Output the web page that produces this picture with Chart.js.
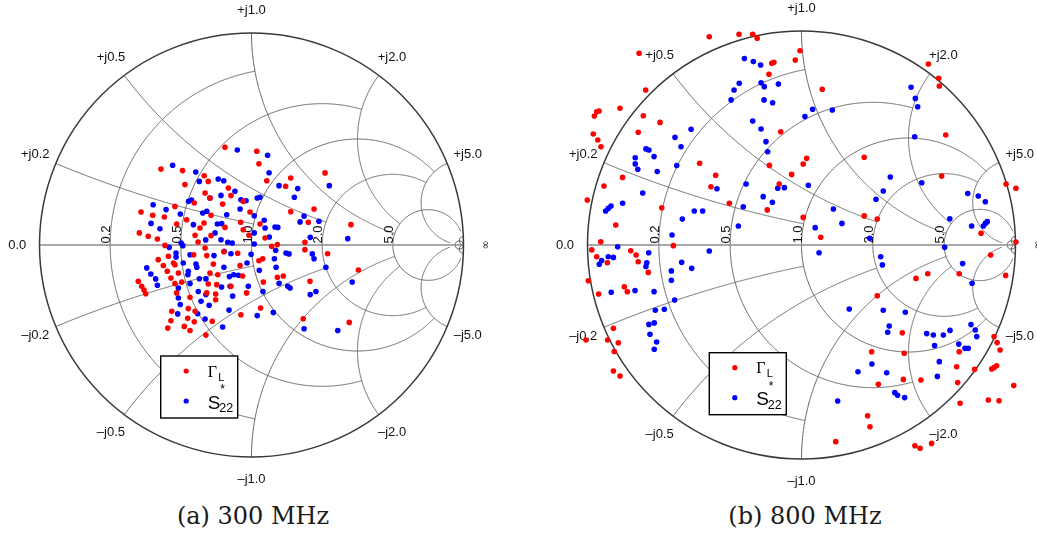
<!DOCTYPE html>
<html>
<head>
<meta charset="utf-8">
<script src="https://cdn.jsdelivr.net/npm/chart.js@4/dist/chart.umd.min.js"></script>
<style>
  html, body { margin: 0; padding: 0; background: #fff; }
  #wrap { position: relative; width: 1037px; height: 537px; overflow: hidden; }
  canvas { position: absolute; top: 0; }
  #smithA { left: 0; }
  #smithB { left: 530px; }
  .cap {
    position: absolute; top: 502px;
    font-family: "DejaVu Serif", serif; font-size: 24px; color: #1a1a1a;
    transform: translateX(-50%); white-space: nowrap;
  }
</style>
</head>
<body>
<div id="wrap">
  <canvas id="smithA" width="530" height="500"></canvas>
  <canvas id="smithB" width="507" height="500"></canvas>
  <div class="cap" style="left:253px">(a) 300 MHz</div>
  <div class="cap" style="left:805px">(b) 800 MHz</div>
</div>
<script>
// Smith chart grid: constant-resistance circles and constant-reactance arcs,
// each one drawn only up to its limit value
const resistanceCircles = [0.2, 0.5, 1.0, 2.0, 5.0];
const resistanceLimits = [1, 2, 5, 5, 30];
const reactanceArcs = [0.2, 0.5, 1.0, 2.0, 5.0];
const reactanceLimits = [1, 2, 5, 5, 30];
const resistanceLabels = ['0.2', '0.5', '1.0', '2.0', '5.0'];
const reactanceLabels = ['0.2', '0.5', '1.0', '2.0', '5.0'];

// reflection coefficients [Re, Im] at 300 MHz
const gammaL300 = [
  [-0.125,0.461],[-0.427,0.358],[-0.325,0.351],[-0.314,0.285],[-0.223,0.327],[-0.204,0.300],[-0.219,0.245],
  [-0.109,0.269],[-0.097,0.233],[-0.196,0.222],[-0.039,0.206],[-0.270,0.198],[-0.136,0.193],[-0.361,0.182],
  [-0.521,0.156],[-0.466,0.140],[-0.411,0.132],[-0.306,0.119],[-0.191,0.140],[-0.353,0.099],[-0.224,0.104],
  [-0.243,0.080],[-0.125,0.083],[-0.051,0.107],[-0.529,0.057],[-0.487,0.041],[-0.444,0.028],[-0.266,0.046],
  [-0.191,0.044],[-0.039,0.072],[-0.252,0.014],[-0.219,-0.014],[-0.408,-0.002],[-0.440,-0.069],[-0.392,-0.053],
  [-0.368,-0.085],[-0.273,-0.046],[-0.211,-0.050],[-0.130,-0.032],[-0.065,-0.039],[-0.416,-0.097],[-0.397,-0.124],
  [-0.361,-0.093],[-0.345,-0.132],[-0.380,-0.156],[-0.329,-0.175],[-0.180,-0.090],[-0.196,-0.132],[-0.159,-0.140],
  [-0.054,-0.097],[-0.534,-0.171],[-0.518,-0.195],[-0.507,-0.212],[-0.499,-0.230],[-0.361,-0.182],[-0.204,-0.184],
  [-0.164,-0.187],[-0.097,-0.195],[-0.042,-0.146],[-0.353,-0.226],[-0.290,-0.247],[-0.211,-0.226],[-0.169,-0.231],
  [-0.169,-0.258],[-0.376,-0.313],[-0.298,-0.300],[-0.266,-0.313],[-0.380,-0.357],[-0.301,-0.346],[-0.270,-0.362],
  [-0.185,-0.360],[-0.395,-0.392],[-0.317,-0.384],[-0.290,-0.403],[-0.050,-0.329],[-0.215,-0.425],
  [0.025,0.442],[0.035,0.383],[0.072,0.303],[0.185,0.316],[0.161,0.277],[0.347,0.340],[0.295,0.170],
  [0.185,0.157],[-0.007,0.156],[0.040,0.099],[0.268,0.107],[-0.012,0.046],[0.064,0.033],[0.122,0.002],
  [0.095,-0.006],[0.252,0.013],[0.252,-0.022],[0.359,-0.041],[0.469,0.096],[0.035,-0.074],[0.053,-0.065],
  [0.122,-0.152],[0.150,-0.146],[0.056,-0.175],[0.276,-0.171],[-0.023,-0.226],[0.504,-0.118],[0.043,-0.297],
  [0.244,-0.348],[0.461,-0.365]
];
const s22conj300 = [
  [-0.067,0.448],[-0.372,0.376],[-0.263,0.344],[-0.246,0.300],[-0.157,0.311],[-0.131,0.303],[-0.078,0.253],
  [-0.196,0.222],[-0.144,0.234],[-0.050,0.213],[-0.297,0.206],[-0.283,0.212],[-0.464,0.190],[-0.403,0.167],
  [-0.336,0.146],[-0.230,0.151],[-0.211,0.159],[-0.117,0.143],[-0.054,0.170],[-0.474,0.102],[-0.432,0.077],
  [-0.274,0.096],[-0.161,0.099],[-0.141,0.101],[-0.172,0.057],[-0.144,0.025],[-0.216,0.024],[-0.112,0.013],
  [-0.091,0.009],[-0.332,0.009],[-0.324,-0.003],[-0.388,-0.011],[-0.356,-0.038],[-0.356,-0.057],[-0.290,-0.046],
  [-0.177,-0.050],[-0.097,-0.041],[-0.129,-0.030],[-0.322,-0.085],[-0.262,-0.090],[-0.258,-0.105],[-0.494,-0.108],
  [-0.475,-0.137],[-0.452,-0.160],[-0.444,-0.190],[-0.298,-0.124],[-0.300,-0.140],[-0.246,-0.159],[-0.215,-0.160],
  [-0.290,-0.182],[-0.130,-0.105],[-0.084,-0.140],[-0.062,-0.143],[-0.104,-0.149],[-0.345,-0.203],[-0.251,-0.219],
  [-0.215,-0.234],[-0.141,-0.198],[-0.101,-0.195],[-0.089,-0.241],[-0.345,-0.250],[-0.238,-0.265],[-0.200,-0.284],
  [-0.336,-0.281],[-0.348,-0.325],[-0.254,-0.324],[-0.106,-0.307],[-0.219,-0.349],[-0.136,-0.387],
  [0.076,0.423],[0.083,0.341],[0.130,0.280],[0.218,0.266],[0.202,0.225],[0.027,0.222],[0.040,0.225],
  [-0.026,0.209],[0.367,0.280],[0.013,0.138],[0.060,0.117],[0.064,0.080],[0.111,0.085],[0.124,0.083],
  [0.248,0.136],[0.229,0.109],[0.318,0.112],[0.013,0.057],[0.084,0.038],[0.277,0.036],[0.454,0.030],
  [0.013,0.005],[0.114,-0.025],[0.163,-0.038],[0.177,-0.042],[0.287,-0.042],[0.295,-0.065],[-0.002,-0.044],
  [-0.021,-0.085],[0.108,-0.065],[0.116,-0.105],[0.037,-0.119],[0.351,-0.105],[0.130,-0.181],[0.171,-0.195],
  [0.182,-0.203],[0.304,-0.219],[0.277,-0.234],[0.054,-0.219],[-0.015,-0.195],[0.475,-0.175],[0.103,-0.318],
  [0.027,-0.333],[0.248,-0.395],[0.407,-0.403]
];

// reflection coefficients [Re, Im] at 800 MHz
const gammaL800 = [
  [-0.431,0.973],[-0.292,0.985],[-0.228,0.985],[-0.207,0.966],[-0.759,0.896],[-0.007,0.908],[-0.029,0.864],
  [-0.139,0.849],[-0.129,0.854],[-0.152,0.798],[-0.728,0.724],[-0.848,0.639],[-0.957,0.623],[-0.968,0.603],
  [-0.946,0.626],[-0.739,0.604],[-0.661,0.573],[-0.763,0.527],[-0.973,0.519],[-0.952,0.491],[-0.937,0.459],
  [-0.097,0.529],[-0.476,0.382],[-0.150,0.372],[0.008,0.378],[-0.046,0.330],[-0.401,0.326],[-0.104,0.285],
  [-0.423,0.272],[-0.836,0.316],[-0.923,0.276],[-1.001,0.210],[-0.337,0.195],[-0.160,0.164],[-0.653,0.174],
  [-0.868,0.093],[-0.938,0.015],
  [0.097,0.728],[0.593,0.846],[0.641,0.779],[0.644,0.743],[0.674,0.514],[0.024,0.405],[0.293,0.410],
  [0.655,0.322],[0.956,0.285],[1.002,0.265],[0.293,0.136],[0.354,0.121],[0.008,0.129],[0.090,0.036],
  [0.839,0.055],[1.002,0.014],
  [-0.980,-0.023],[-0.957,-0.055],[-0.907,-0.083],[-0.798,-0.027],[-0.773,-0.047],[-0.763,-0.078],[-0.716,-0.128],
  [-0.599,-0.003],[-0.996,-0.167],[-0.948,-0.229],[-0.828,-0.195],[-0.814,-0.218],[-0.879,-0.389],[-1.007,-0.444],
  [-0.906,-0.444],[-0.856,-0.457],[-0.875,-0.498],[-0.879,-0.589],[-0.848,-0.612],
  [0.884,-0.047],[0.954,-0.142],[0.737,-0.134],[0.590,-0.134],[0.535,-0.156],[0.354,-0.237],[0.471,-0.410],
  [0.328,-0.499],[0.480,-0.506],[0.359,-0.651],[0.476,-0.628],[0.558,-0.631],[0.737,-0.499],[0.725,-0.569],
  [0.730,-0.643],[0.809,-0.581],[0.900,-0.428],[0.914,-0.456],[0.928,-0.491],[0.889,-0.579],[0.900,-0.573],
  [0.912,-0.564],[0.992,-0.657],[0.873,-0.724],[0.923,-0.728],[0.741,-0.740],[0.309,-0.798],[0.320,-0.849],
  [0.160,-0.919],[0.530,-0.938],[0.554,-0.950],[0.608,-0.927]
];
const s22conj800 = [
  [-0.267,0.871],[-0.225,0.857],[-0.191,0.841],[-0.291,0.756],[-0.315,0.724],[-0.329,0.678],[-0.189,0.758],
  [-0.174,0.740],[-0.108,0.752],[-0.175,0.678],[-0.135,0.665],[-0.228,0.579],[-0.189,0.542],[-0.166,0.483],
  [-0.158,0.436],[-0.516,0.541],[-0.591,0.503],[-0.563,0.459],[-0.727,0.449],[-0.713,0.444],[-0.689,0.413],
  [-0.777,0.408],[-0.777,0.379],[-0.765,0.354],[-0.674,0.343],[-0.583,0.371],[-0.259,0.285],[-0.395,0.263],
  [-0.111,0.265],[-0.080,0.268],[-0.179,0.226],[-0.136,0.200],[-0.272,0.179],[-0.742,0.243],[-0.836,0.195],
  [-0.915,0.159],[-0.903,0.171],[-0.890,0.182],[-0.501,0.159],[-0.462,0.159],[-0.557,0.121],[-0.295,0.089],
  [-0.605,0.047],
  [0.512,0.737],[0.532,0.685],[0.543,0.646],[0.052,0.634],[0.144,0.631],[0.016,0.600],[0.529,0.506],
  [0.415,0.318],[0.032,0.279],[0.562,0.291],[0.382,0.252],[0.348,0.214],[0.777,0.241],[0.826,0.229],
  [0.859,0.202],[0.149,0.168],[0.189,0.101],[0.064,0.081],[0.693,0.123],[0.795,0.089],[0.850,0.089],
  [0.859,0.101],[0.868,0.109],[0.319,0.031],
  [-0.859,-0.008],[-0.714,-0.036],[-0.903,-0.055],[-0.879,-0.058],[-0.934,-0.073],[-0.945,-0.090],[-0.723,-0.083],
  [-0.727,-0.101],[-0.431,-0.028],[-0.560,-0.081],[-0.513,-0.109],[-0.608,-0.121],[-0.608,-0.165],[-0.889,-0.221],
  [-0.778,-0.213],[-0.689,-0.218],[-0.593,-0.257],[-0.683,-0.305],[-0.641,-0.300],[-0.713,-0.371],[-0.688,-0.364],
  [-0.708,-0.417],[-0.677,-0.453],[-0.688,-0.487],
  [0.082,-0.036],[0.370,-0.055],[0.378,-0.093],[0.669,-0.011],[0.753,-0.087],[0.797,-0.179],[0.223,-0.299],
  [0.382,-0.305],[0.485,-0.314],[0.410,-0.379],[0.403,-0.408],[0.585,-0.414],[0.616,-0.421],[0.663,-0.421],
  [0.694,-0.399],[0.622,-0.470],[0.792,-0.372],[0.812,-0.397],[0.819,-0.428],[0.735,-0.463],[0.764,-0.483],
  [0.779,-0.483],[0.644,-0.545],[0.635,-0.614],[0.329,-0.556],[0.264,-0.592],[0.398,-0.597],[0.436,-0.690],
  [0.449,-0.702],[0.482,-0.713],[0.169,-0.729]
];

const LABEL_FONT = '13px "Liberation Sans", Arial, sans-serif';

// normalized impedance r + jx -> reflection coefficient
function zToGamma(r, x) {
  const d = (r + 1) * (r + 1) + x * x;
  return [(r * r - 1 + x * x) / d, 2 * x / d];
}

const smithGrid = {
  id: 'smithGrid',
  beforeDatasetsDraw(chart) {
    const ctx = chart.ctx;
    const xs = chart.scales.x, ys = chart.scales.y;
    const cx = xs.getPixelForValue(0), cy = ys.getPixelForValue(0);
    const R = xs.getPixelForValue(1) - cx;

    const trace = (fn, a, b, n) => {
      ctx.beginPath();
      for (let i = 0; i <= n; i++) {
        const [gx, gy] = fn(a + (b - a) * i / n);
        const X = xs.getPixelForValue(gx), Y = ys.getPixelForValue(gy);
        if (i === 0) ctx.moveTo(X, Y); else ctx.lineTo(X, Y);
      }
      ctx.stroke();
    };

    ctx.save();
    ctx.beginPath();
    ctx.arc(cx, cy, R, 0, Math.PI * 2);
    ctx.clip();
    ctx.strokeStyle = '#5e5e5e';
    ctx.lineWidth = 1;
    resistanceCircles.forEach((r, i) => {
      const lim = resistanceLimits[i];
      trace(x => zToGamma(r, x), -lim, lim, 900);
    });
    reactanceArcs.forEach((x, i) => {
      const lim = reactanceLimits[i];
      trace(r => zToGamma(r, x), 0, lim, 700);
      trace(r => zToGamma(r, -x), 0, lim, 700);
    });
    // small circles crowding the open-circuit point
    const rr = 1 / 51;
    ctx.beginPath();
    ctx.arc(xs.getPixelForValue(1 - rr), cy, rr * R, 0, Math.PI * 2);
    ctx.stroke();
    [1, -1].forEach(s => {
      ctx.beginPath();
      ctx.arc(xs.getPixelForValue(1), ys.getPixelForValue(s * 0.02), 0.02 * R, 0, Math.PI * 2);
      ctx.stroke();
    });
    ctx.restore();

    // real axis
    ctx.save();
    ctx.strokeStyle = '#8c8c8c';
    ctx.lineWidth = 1.5;
    ctx.beginPath();
    ctx.moveTo(cx - R, cy);
    ctx.lineTo(cx + R, cy);
    ctx.stroke();
    // outer rim
    ctx.strokeStyle = '#3a3a3a';
    ctx.lineWidth = 1.5;
    ctx.beginPath();
    ctx.arc(cx, cy, R, 0, Math.PI * 2);
    ctx.stroke();

    ctx.fillStyle = '#111';
    ctx.font = LABEL_FONT;
    // resistance labels, written upward along the real axis
    resistanceCircles.forEach((r, i) => {
      const xEdge = xs.getPixelForValue((r - 1) / (r + 1));
      ctx.save();
      ctx.translate(xEdge, cy - 1.5);
      ctx.rotate(-Math.PI / 2);
      ctx.textAlign = 'left';
      ctx.textBaseline = 'alphabetic';
      ctx.fillText(resistanceLabels[i], 0, 0);
      ctx.restore();
    });
    // reactance labels outside the rim
    const lr = 1.105;
    ctx.textAlign = 'center';
    ctx.textBaseline = 'middle';
    reactanceArcs.forEach((x, i) => {
      [1, -1].forEach(s => {
        const [gx, gy] = zToGamma(0, s * x);
        const t = Math.atan2(gy, gx);
        const txt = (s > 0 ? '+j' : '\u2013j') + reactanceLabels[i];
        ctx.fillText(txt, cx + lr * R * Math.cos(t), cy - lr * R * Math.sin(t));
      });
    });
    ctx.fillText('0.0', cx - lr * R, cy);
    ctx.save();
    ctx.translate(cx + lr * R, cy);
    ctx.rotate(-Math.PI / 2);
    ctx.font = '11px "DejaVu Sans", sans-serif';
    ctx.fillText('\u221e', 0, 0);
    ctx.restore();
    ctx.restore();
  },
  afterDatasetsDraw(chart, args, opts) {
    const ctx = chart.ctx;
    const [bx, by] = opts.legendAt;
    ctx.save();
    ctx.fillStyle = '#fff';
    ctx.fillRect(bx, by, 77, 62);
    ctx.strokeStyle = '#000';
    ctx.lineWidth = 1.4;
    ctx.strokeRect(bx, by, 77, 62);
    chart.data.datasets.forEach((ds, i) => {
      ctx.fillStyle = ds.backgroundColor;
      ctx.beginPath();
      ctx.arc(bx + 25.5, by + 15 + i * 30, 2.6, 0, Math.PI * 2);
      ctx.fill();
    });
    ctx.fillStyle = '#000';
    ctx.textAlign = 'left';
    ctx.textBaseline = 'alphabetic';
    ctx.font = '16px "Liberation Serif", serif';
    ctx.fillText('\u0393', bx + 47, by + 20.5);
    ctx.font = '11px "Liberation Sans", sans-serif';
    ctx.fillText('L', bx + 57.5, by + 24.5);
    ctx.font = '19px "Liberation Sans", sans-serif';
    ctx.fillText('S', bx + 47, by + 52.5);
    ctx.font = '12px "Liberation Sans", sans-serif';
    ctx.fillText('*', bx + 59.5, by + 37);
    ctx.font = '12.5px "Liberation Sans", sans-serif';
    ctx.fillText('22', bx + 58.5, by + 56);
    ctx.restore();
  }
};

function makeSmith(id, red, blue, pad, legendAt) {
  const pts = arr => arr.map(([x, y]) => ({ x, y }));
  return new Chart(document.getElementById(id), {
    type: 'scatter',
    data: {
      datasets: [
        { label: '\u0393L', data: pts(red), backgroundColor: '#ff0000', pointRadius: 2.8, borderWidth: 0, clip: false },
        { label: 'S22*', data: pts(blue), backgroundColor: '#0000ff', pointRadius: 2.8, borderWidth: 0, clip: false }
      ]
    },
    options: {
      responsive: false,
      animation: false,
      events: [],
      layout: { padding: pad },
      scales: {
        x: { type: 'linear', min: -1, max: 1, display: false },
        y: { type: 'linear', min: -1, max: 1, display: false }
      },
      plugins: {
        legend: { display: false },
        tooltip: { enabled: false },
        smithGrid: { legendAt }
      }
    },
    plugins: [smithGrid]
  });
}

makeSmith('smithA', gammaL300, s22conj300,
  { left: 39.5, right: 66.5, top: 33, bottom: 43 }, [160.7, 356]);
makeSmith('smithB', gammaL800, s22conj800,
  { left: 57.5, right: 21.5, top: 31, bottom: 41 }, [179.3, 352.7]);
</script>
</body>
</html>
